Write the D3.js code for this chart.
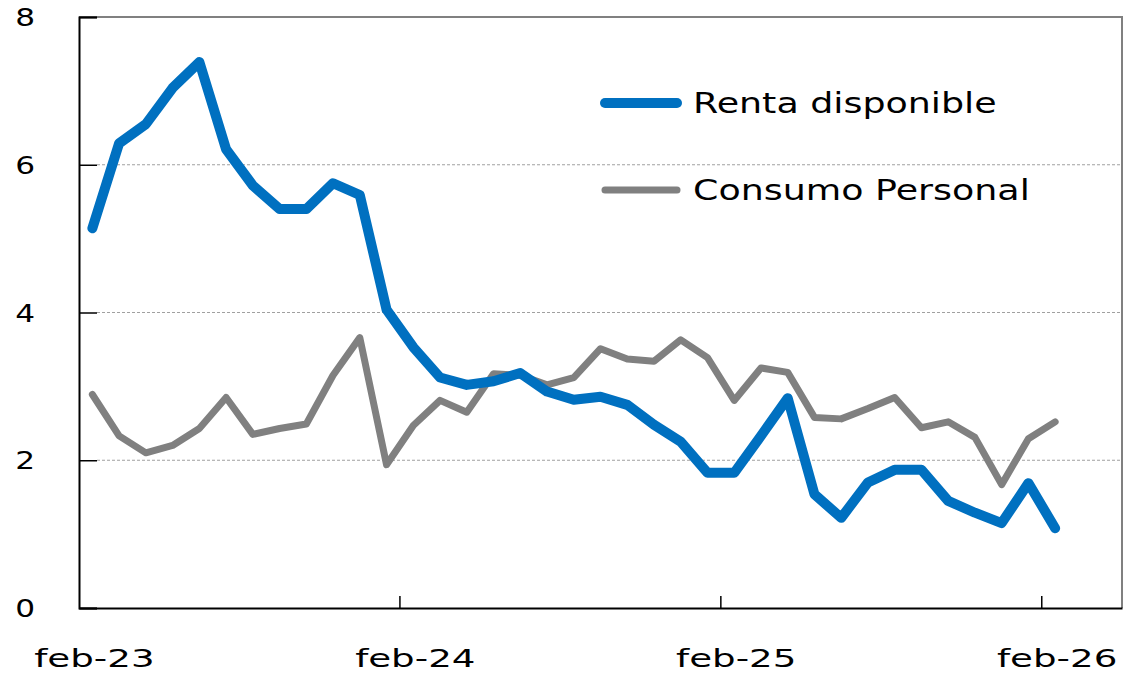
<!DOCTYPE html>
<html>
<head>
<meta charset="utf-8">
<script src="https://cdn.jsdelivr.net/npm/d3@7"></script>
<style>
  body { margin: 0; background: #fff; }
  text { font-family: "DejaVu Sans", sans-serif; fill: #000; }
</style>
</head>
<body>
<div class="chart"></div>
<script>
// months on the x axis (feb-23 .. apr-26), data ends in feb-26
const months = ["feb-23","mar-23","abr-23","may-23","jun-23","jul-23","ago-23","sep-23","oct-23","nov-23","dic-23","ene-24",
  "feb-24","mar-24","abr-24","may-24","jun-24","jul-24","ago-24","sep-24","oct-24","nov-24","dic-24","ene-25",
  "feb-25","mar-25","abr-25","may-25","jun-25","jul-25","ago-25","sep-25","oct-25","nov-25","dic-25","ene-26",
  "feb-26","mar-26","abr-26"]

const tickMonths = ["feb-23", "feb-24", "feb-25", "feb-26"]
const yTicks = [0, 2, 4, 6, 8]

const renta = [5.14, 6.29, 6.55, 7.04, 7.39, 6.21, 5.72, 5.40, 5.40, 5.75, 5.59, 4.04,
  3.53, 3.12, 3.02, 3.07, 3.18, 2.93, 2.82, 2.86, 2.75, 2.48, 2.25, 1.83,
  1.83, 2.33, 2.84, 1.54, 1.22, 1.70, 1.87, 1.87, 1.45, 1.29, 1.15, 1.69,
  1.08]

const consumo = [2.89, 2.33, 2.10, 2.20, 2.43, 2.85, 2.35, 2.43, 2.49, 3.15, 3.66, 1.94,
  2.47, 2.81, 2.65, 3.17, 3.15, 3.02, 3.12, 3.51, 3.37, 3.34, 3.63, 3.39,
  2.81, 3.25, 3.19, 2.58, 2.56, 2.70, 2.85, 2.44, 2.52, 2.31, 1.67, 2.29,
  2.52]

const series = [
  { name: "Renta disponible", values: renta, color: "#0070c0", width: 10 },
  { name: "Consumo Personal", values: consumo, color: "#808080", width: 7 }
]

const width = 1125
const height = 675
const margin = { top: 17, right: 3, bottom: 67, left: 79 }

const svg = d3.select(".chart")
  .append("svg")
  .attr("width", width)
  .attr("height", height)

const x = d3.scaleBand()
  .domain(months)
  .range([margin.left, width - margin.right])

const y = d3.scaleLinear()
  .domain([0, 8])
  .range([height - margin.bottom, margin.top])

// stretched text, the reference font is wide
function wideText(sel, sx) {
  sel.attr("transform", function() {
    const tx = +this.getAttribute("data-x"), ty = +this.getAttribute("data-y")
    return `translate(${tx},${ty}) scale(${sx},1)`
  })
}

// gridlines
svg.append("g")
  .selectAll("line")
  .data(yTicks.filter(d => d > 0 && d < 8))
  .join("line")
  .attr("x1", margin.left + 18)
  .attr("x2", width - margin.right)
  .attr("y1", d => y(d))
  .attr("y2", d => y(d))
  .attr("stroke", "#a0a0a0")
  .attr("stroke-width", 1)
  .attr("stroke-dasharray", "3,2")

// frame top/right
svg.append("path")
  .attr("d", `M${margin.left},${y(8)}H${width - margin.right}V${y(0)}`)
  .attr("fill", "none")
  .attr("stroke", "#808080")
  .attr("stroke-width", 2)

// y axis
const yAxis = svg.append("g")
  .attr("transform", `translate(${margin.left},0)`)
  .call(d3.axisRight(y).tickValues(yTicks).tickSize(18).tickFormat(""))
yAxis.select(".domain").attr("stroke", "#000").attr("stroke-width", 2)
yAxis.selectAll(".tick line").attr("stroke", "#000").attr("stroke-width", 1.5)

svg.append("g")
  .selectAll("text")
  .data(yTicks)
  .join("text")
  .attr("data-x", 35)
  .attr("data-y", d => y(d) + 9)
  .attr("text-anchor", "end")
  .attr("font-size", 24)
  .text(d => d)
  .call(wideText, 1.3)

// x axis
const xAxis = svg.append("g")
  .attr("transform", `translate(0,${y(0)})`)
  .call(d3.axisBottom(x).tickValues([]).tickSizeOuter(0))
xAxis.select(".domain").attr("stroke", "#000").attr("stroke-width", 2)

svg.append("g")
  .selectAll("line")
  .data(tickMonths.slice(1))
  .join("line")
  .attr("x1", d => x(d))
  .attr("x2", d => x(d))
  .attr("y1", y(0))
  .attr("y2", y(0) - 12)
  .attr("stroke", "#000")
  .attr("stroke-width", 1.5)

svg.append("g")
  .selectAll("text")
  .data(tickMonths)
  .join("text")
  .attr("data-x", d => x(d) + x.bandwidth() / 2 + 2)
  .attr("data-y", 667)
  .attr("text-anchor", "middle")
  .attr("font-size", 24)
  .text(d => d)
  .call(wideText, 1.55)

// lines
const line = d3.line()
  .x((d, i) => x(months[i]) + x.bandwidth() / 2)
  .y(d => y(d))

svg.append("g")
  .selectAll("path")
  .data(series.slice().reverse())
  .join("path")
  .attr("d", d => line(d.values))
  .attr("fill", "none")
  .attr("stroke", d => d.color)
  .attr("stroke-width", d => d.width)
  .attr("stroke-linejoin", "round")
  .attr("stroke-linecap", "round")

// legend
const legend = svg.append("g")
  .selectAll("g")
  .data(series)
  .join("g")
  .attr("transform", (d, i) => `translate(605,${103 + i * 87})`)

legend.append("line")
  .attr("x1", 0)
  .attr("x2", 72)
  .attr("stroke", d => d.color)
  .attr("stroke-width", d => d.width)
  .attr("stroke-linecap", "round")

legend.append("text")
  .attr("data-x", 88)
  .attr("data-y", 10)
  .attr("font-size", 28)
  .text(d => d.name)
  .call(wideText, 1.3)
</script>
</body>
</html>
